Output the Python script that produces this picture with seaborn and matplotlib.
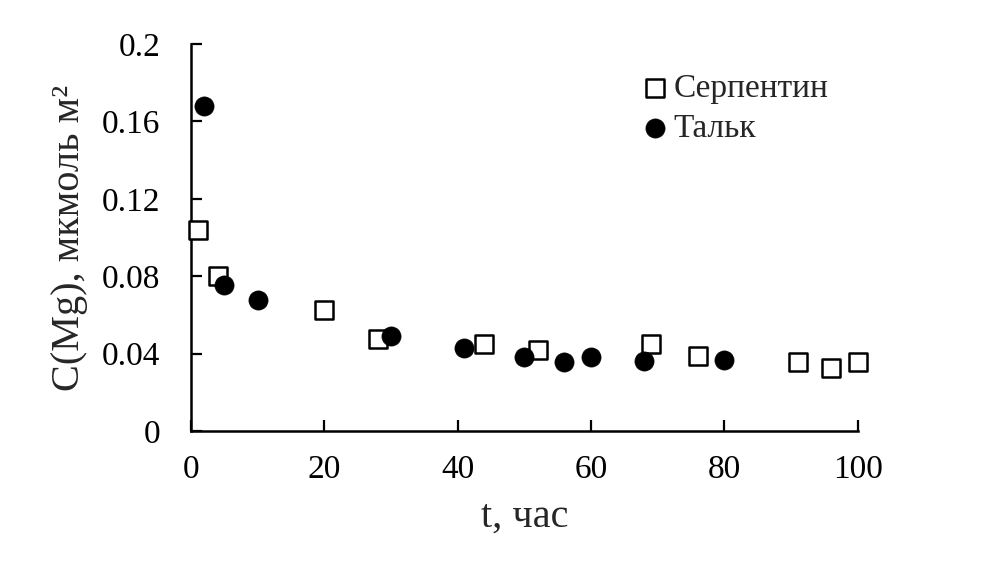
import matplotlib
matplotlib.use("Agg")
import matplotlib.pyplot as plt
import seaborn as sns
import pandas as pd
from matplotlib.ticker import FuncFormatter

serp_t = [1, 4, 20, 28, 44, 52, 69, 76, 91, 96, 100]
serp_c = [0.104, 0.080, 0.0625, 0.0475, 0.045, 0.042, 0.045, 0.039, 0.0357, 0.0326, 0.0357]
talc_t = [2, 5, 10, 30, 41, 50, 56, 60, 68, 80]
talc_c = [0.168, 0.0755, 0.0677, 0.049, 0.043, 0.038, 0.0357, 0.038, 0.036, 0.0367]

sns.set_theme(style="white")
plt.rcParams['font.family'] = ['Liberation Serif', 'DejaVu Serif']
plt.rcParams['xtick.bottom'] = True
plt.rcParams['ytick.left'] = True
plt.rcParams['xtick.direction'] = 'in'
plt.rcParams['ytick.direction'] = 'in'

df_s = pd.DataFrame({"t": serp_t, "c": serp_c})
df_t = pd.DataFrame({"t": talc_t, "c": talc_c})

fig = plt.figure(figsize=(10.08, 5.69), dpi=100)
ax = fig.add_axes([0.1895, 0.2425, 0.851 - 0.1895, 0.9227 - 0.2425])

sns.scatterplot(data=df_s, x="t", y="c", ax=ax, marker="s", s=150,
                facecolor="white", edgecolor="black", linewidth=1.8,
                label="Серпентин", zorder=3, clip_on=False)
sns.scatterplot(data=df_t, x="t", y="c", ax=ax, marker="o", s=190,
                color="black", edgecolor="black", linewidth=0.5,
                label="Тальк", zorder=4, clip_on=False)

ax.set_xlim(0, 100)
ax.set_ylim(0, 0.2)
ax.set_xticks([0, 20, 40, 60, 80, 100])
ax.set_yticks([0, 0.04, 0.08, 0.12, 0.16, 0.2])
ax.yaxis.set_major_formatter(FuncFormatter(lambda v, p: f"{v:g}"))
ax.tick_params(axis="both", which="major", direction="in", length=8, width=1.6,
               labelsize=24, colors="black", bottom=True, left=True)
ax.tick_params(axis="y", pad=22)
ax.tick_params(axis="x", pad=17)
for side in ["top", "right"]:
    ax.spines[side].set_visible(False)
for side in ["left", "bottom"]:
    ax.spines[side].set_linewidth(1.8)
    ax.spines[side].set_color("black")

ax.set_xlabel("t, час", fontsize=29)
ax.set_ylabel("C(Mg), мкмоль м²", fontsize=29)
ax.xaxis.set_label_coords(0.5, -0.175)
ax.yaxis.set_label_coords(-0.155, 0.5)

leg = ax.legend(loc="upper left", bbox_to_anchor=(640 / 1008, 1 - 73 / 569),
                bbox_transform=fig.transFigure, frameon=False,
                fontsize=24, handlelength=0.9, handletextpad=0.1,
                labelspacing=0.3, markerscale=1.0, borderpad=0, borderaxespad=0)

fig.savefig("out.png", dpi=100)
